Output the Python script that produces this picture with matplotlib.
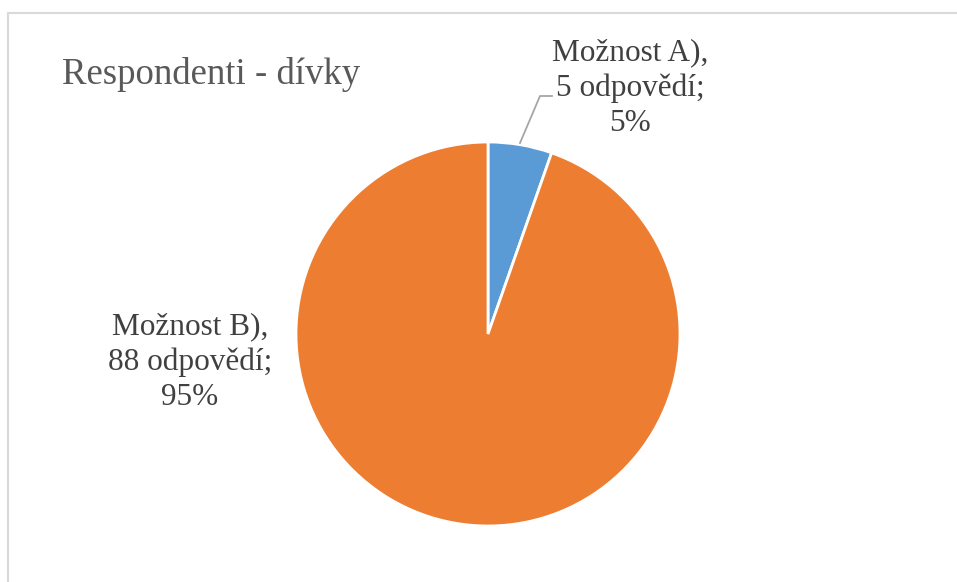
import matplotlib
matplotlib.use("Agg")
import matplotlib.pyplot as plt
from matplotlib.lines import Line2D

title = "Respondenti - dívky"
categories = ["Možnost A)", "Možnost B)"]
counts = [5, 88]
percents = ["5%", "95%"]
colors = ["#5B9BD5", "#ED7D31"]

W, H = 957, 582
fig = plt.figure(figsize=(W / 100, H / 100), dpi=100)
ax = fig.add_axes([0, 0, 1, 1])

# chart area border (top and left visible)
fig.add_artist(Line2D([8 / W, 1], [1 - 12.5 / H, 1 - 12.5 / H], color="#D9D9D9", lw=1.5, transform=fig.transFigure))
fig.add_artist(Line2D([8 / W, 8 / W], [0, 1 - 12.5 / H], color="#D9D9D9", lw=1.5, transform=fig.transFigure))

cx, cy, r = 488, H - 334, 192
ax.pie(counts, colors=colors, startangle=90, counterclock=False,
       center=(cx, cy), radius=r, frame=True,
       wedgeprops=dict(edgecolor="white", linewidth=2))
ax.set_xlim(0, W)
ax.set_ylim(0, H)
ax.set_aspect("equal")
ax.axis("off")

font = "Liberation Serif"
ax.text(62, H - 75, title, fontsize=26.5, color="#595959", family=font, ha="left", va="center")

lab_a = f"{categories[0]},\n{counts[0]} odpovědí;\n{percents[0]}"
lab_b = f"{categories[1]},\n{counts[1]} odpovědí;\n{percents[1]}"
ax.text(630, H - 88, lab_a, fontsize=22.5, color="#404040", family=font,
        ha="center", va="center", multialignment="center", linespacing=1.27)
ax.text(190, H - 362, lab_b, fontsize=22.5, color="#404040", family=font,
        ha="center", va="center", multialignment="center", linespacing=1.27)

# leader line for A
ax.plot([520, 540, 552], [H - 143, H - 96, H - 96], color="#A6A6A6", lw=1.3)

fig.savefig("out.png", dpi=100)
